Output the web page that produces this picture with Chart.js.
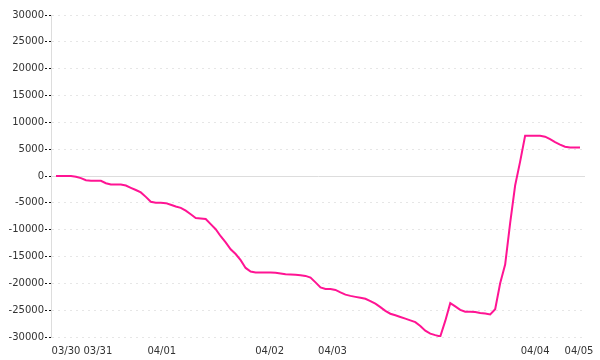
<!DOCTYPE html>
<html>
<head>
<meta charset="utf-8">
<script src="https://cdn.jsdelivr.net/npm/chart.js@4"></script>
<style>
  html, body { margin: 0; padding: 0; background: #fff; }
  #chart { display: block; }
</style>
</head>
<body>
<canvas id="chart" width="600" height="360"></canvas>
<script>
// Cumulative value per sample
const values = [
    0, 0, 0, 0, -130, -400, -800, -900, -900, -900,
    -1340, -1600, -1600, -1600, -1780, -2200, -2610, -3060, -3890, -4810,
    -5000, -5000, -5060, -5370, -5670, -5940, -6460, -7130, -7820, -7910,
    -8000, -8970, -9920, -11220, -12380, -13660, -14540, -15690, -17130, -17800,
    -17970, -18000, -18000, -18000, -18030, -18180, -18310, -18370, -18420, -18480,
    -18620, -18940, -19820, -20750, -21050, -21050, -21230, -21690, -22110, -22340,
    -22520, -22680, -22880, -23300, -23800, -24430, -25120, -25660, -25960, -26260,
    -26580, -26900, -27230, -27940, -28830, -29370, -29650, -29900, -27000, -23700,
    -24300, -24940, -25300, -25300, -25340, -25520, -25640, -25800, -24840, -20000,
    -16500, -8800, -1770, 2680, 7500, 7500, 7500, 7500, 7330, 6860,
    6300, 5860, 5460, 5300, 5300, 5300
];

// Date labels and where along the samples each one sits
const dateLabels = ['03/30', '03/31', '04/01', '04/02', '04/03', '04/04', '04/05'];
const dateIndex = [2, 8.4, 21.2, 42.8, 55.4, 96, 104.8];

// Y axis range
const yMin = -30000;
const yMax = 30000;
const yStep = 5000;

const points = values.map((v, i) => ({ x: i, y: v }));

const ctx = document.getElementById('chart').getContext('2d');
new Chart(ctx, {
    type: 'line',
    data: {
        datasets: [{
            data: points,
            borderColor: '#ff1493',
            borderWidth: 2,
            pointRadius: 0,
            tension: 0,
            fill: false
        }]
    },
    options: {
        responsive: false,
        devicePixelRatio: 1,
        animation: false,
        layout: { padding: { top: 15, right: 15, left: 0, bottom: 0 } },
        plugins: {
            legend: { display: false },
            tooltip: { enabled: false }
        },
        scales: {
            x: {
                type: 'linear',
                min: -1,
                max: values.length,
                grid: { display: false },
                border: { display: false },
                afterBuildTicks: (scale) => {
                    scale.ticks = dateIndex.map(v => ({ value: v }));
                },
                afterFit: (scale) => { scale.height = 23; },
                ticks: {
                    autoSkip: false,
                    maxRotation: 0,
                    padding: 0,
                    color: '#333',
                    font: { family: 'DejaVu Sans', size: 10 },
                    callback: (val) => {
                        const k = dateIndex.indexOf(val);
                        return k >= 0 ? dateLabels[k] : '';
                    }
                }
            },
            y: {
                min: yMin,
                max: yMax,
                afterFit: (scale) => { scale.width = 51; },
                grid: {
                    color: ctx => (ctx.tick && ctx.tick.value === 0) ? '#dddddd' : '#e6e6e6',
                    tickLength: 6,
                    tickColor: '#111',
                    tickBorderDash: [2, 2]
                },
                border: {
                    color: '#dddddd',
                    dash: ctx => (ctx.tick && ctx.tick.value !== 0) ? [2, 4] : []
                },
                ticks: {
                    stepSize: yStep,
                    padding: 1,
                    color: '#333',
                    font: { family: 'DejaVu Sans', size: 10 },
                    callback: (val) => String(val)
                }
            }
        }
    }
});
</script>
</body>
</html>
